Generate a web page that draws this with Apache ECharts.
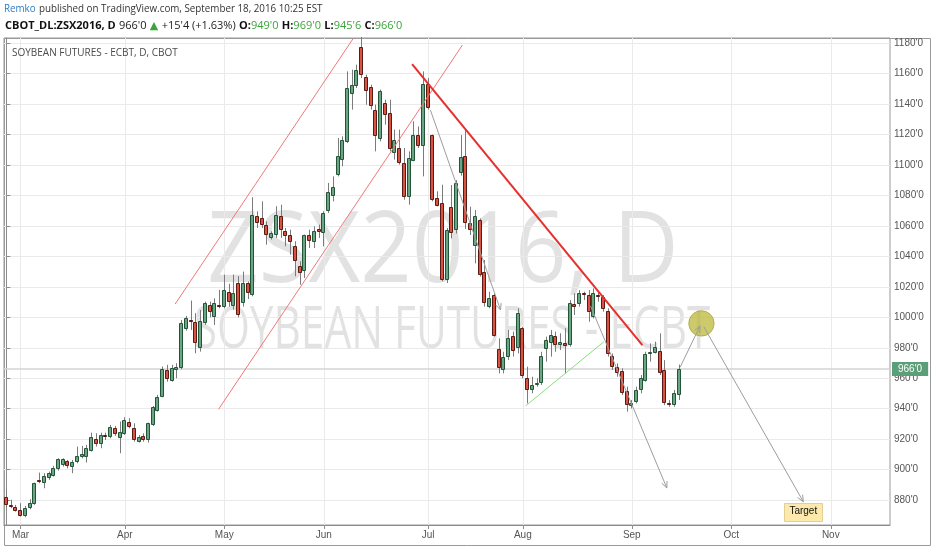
<!DOCTYPE html>
<html><head><meta charset="utf-8">
<script src="https://cdn.jsdelivr.net/npm/echarts@6/dist/echarts.min.js"></script>
<style>html,body{margin:0;padding:0;background:#fff}#c{width:932px;height:550px}</style>
</head><body><div id="c"></div>
<script>
// ---------- data ----------
const firstDay = '2016-02-25';
const dayCount = 187;
const holidays = ['2016-03-25','2016-05-30','2016-07-04','2016-09-05'];
const monthNames = ['Jan','Feb','Mar','Apr','May','Jun','Jul','Aug','Sep','Oct','Nov','Dec'];
const priceTicks = [880,900,920,940,960,980,1000,1020,1040,1060,1080,1100,1120,1140,1160,1180];
const priceMin = 863.7, priceMax = 1183.3;

const opens = [882.4,877.1,875.4,
873.6,869.7,874.7,877.5,892.5,891.1,894.4,896.1,900.3,903.1,
905.5,901.6,905.1,908.2,908.2,912.5,920,916.9,922.6,921.3,
927.2,921.1,923.5,931.6,927.2,918.4,922.2,919.5,929.4,938.8,
948,965.5,958.3,965.5,966.6,992.2,997.9,997.2,979.7,996.5,
1008.1,1000.4,1007.5,1007,1016.8,1007.4,1022.3,1009.6,1022.3,1014.9,
1066.3,1065.2,1060.8,1052.1,1054.3,1066.3,1056.4,1054.3,1046.6,1033.9,
1030.2,1053.8,1049.4,1058.2,1055.3,1069.6,1079.4,1093.6,1103.5,1115.1,
1146.6,1151.6,1177.2,1157.5,1150.9,1136.3,1117.2,1140.6,1134.1,1107.8,
1111.1,1101.3,1078.8,1102.4,1119.9,1112.2,1153.1,1119.9,1078.3,1075,
1024.7,1072.6,1057.3,1094.5,1105.9,1062.1,1046.8,1063.8,1030,1007,
1014.6,979,965.4,974.2,987.7,979.6,992.8,960,952.3,955.6,
956.7,979,982.9,987.7,981.8,982.9,981.8,1008.7,1008.7,1016.2,
1014.6,1000.4,1014.6,1013.5,1004.3,974.6,967.6,965,951.8,941.8,
944.6,952.3,958.4,975.9,976.8,978.1,965.4,943.9,942.4,949];
const highs = [886.7,880.2,876.9,
878,876.2,880.6,891.5,898.1,897.7,898.8,902.5,907.5,907.5,
906.4,906.4,915.2,915.6,916.3,924.3,923.9,924.3,924.3,929.4,
928.7,931.6,934.4,933.8,930.5,922.8,923.9,930.9,941.8,949.1,
967.7,968.8,968.8,969.9,998.3,1000.9,1011,1002.7,1004.8,1010.3,
1010.3,1012.5,1018,1028,1022,1028,1027,1030,1023.5,1078.8,
1069.6,1076.1,1063,1056.4,1072.9,1073.9,1058.6,1057.5,1049.9,1036.8,
1054.3,1057.5,1059.7,1060.8,1069.6,1088.2,1092.5,1117.7,1118.8,1161.4,
1162.5,1165.8,1184,1159.2,1152.7,1139.6,1149.4,1142.8,1142.8,1123.2,
1123.2,1111.1,1108.9,1128.6,1125.3,1161.4,1157.1,1119.9,1082.7,1087,
1058.6,1086.8,1090,1119.6,1122.9,1072.6,1070.4,1064.9,1037.6,1016.8,
1015.7,986.2,977.4,991.7,990.6,1005.9,993.8,967.6,961,960,
977.4,987.3,991.7,990.6,989.5,992.8,1011.3,1015.7,1017.9,1016.8,
1017.9,1019,1016.8,1014.6,1005.9,976.3,969.8,966.5,954.5,945.7,
954.5,962.1,977.4,982.9,984,989.5,971.9,945.7,952.3,969];
const lows = [874.7,874.7,872.5,
869.2,868.8,874,876.9,891.1,887.8,893.3,895.5,899.4,902,
900.9,897.7,904.2,907.5,904.7,911.9,915.2,914.1,919.5,920.6,
922.2,910.8,922.8,927.2,918.4,917.8,918.4,917.8,928.7,938.1,
947.5,957.8,957.8,960,965.9,991.3,991.7,976.4,977.5,995,
1000,995,1005.9,1005.9,1007,1005,1000,1007,1012,1013.8,
1058.6,1058.6,1047.7,1051,1052.1,1052.1,1046.6,1041.1,1026.9,1021.4,
1025.8,1045.5,1045.5,1052.1,1046.6,1068.5,1076.1,1092.5,1099.1,1114.4,
1136.3,1150.5,1157,1139.5,1136.3,1108.9,1115.5,1126.4,1108.9,1103.5,
1100.2,1077.2,1073.9,1102.4,1111.1,1092.5,1136.3,1076.1,1072.8,1023.6,
1022.5,1051.8,1055,1093,1058,1054,1035.4,1026.7,1007,1005.9,
987.3,963.2,963.2,972,974.2,976.3,960,943.5,950.1,954.5,
955.6,970.9,974.2,977.4,978.5,963.2,980.7,1001.5,1007,1011.3,
997.1,999.3,1010.2,1003.7,974.2,965.4,961,949,938.1,940.2,
943.5,950.1,957.8,970.9,976.3,962.1,942.4,941.3,941.3,945.75];
const closes = [876.9,875.8,873.2,
869.7,874.7,878,891.1,892,896.1,897.7,901,906.8,906.8,
902.5,905.3,909.3,910.1,914.1,921.7,916.9,922.8,921.7,928.3,
923.3,924.6,932.7,928.3,919.5,921.7,919.5,930.5,941,947.5,
966.1,959.3,966.6,967.7,996.5,999.4,997.6,983,997.8,1009.2,
1003.7,1009.2,1007.2,1017.9,1010.3,1015.7,1001.5,1022.3,1015.7,1067.4,
1061.9,1060.8,1054.3,1055.3,1067.4,1057.5,1053.2,1049.4,1036.8,1029.1,
1053.8,1050.3,1056.4,1056,1068.5,1082.3,1085.3,1105.7,1116.6,1150.5,
1152.7,1162.5,1158.8,1148.7,1138.5,1118.8,1148.3,1133,1110.7,1116.6,
1101.3,1078.8,1104.6,1119.9,1112.2,1153.1,1137.4,1077.2,1072.8,1024.7,
1057.5,1055.1,1087.9,1105.4,1061.7,1057.3,1066.5,1027.8,1009.2,1012.4,
987.7,966.5,974.2,986.2,978.1,1003,961.5,952.3,955.6,957.1,
974.6,985.1,988.4,981.8,984,981.2,1009.1,1007,1016.2,1014.6,
1003.7,1016.2,1013.5,1005.2,975.7,967.6,963.2,950.5,942.4,943.5,
952.3,960,975.9,977.2,980.3,963.7,943.5,942.4,950.5,966];
const lastPrice = 966;

// chart drawings, in (day position, price)
const channelLines = [[35.62,1008.7,73.27,1183.3],[44.77,939.6,96.26,1178.7]];
const trendLines = [[85.63,1166.2,134.23,981.8]];
const supportLines = [[109.57,941.8,126.12,984]];
const arrowLines = [[89.5,1136,104.3,1004.8],[123.3,1007.4,139.4,888],[142.2,967.2,146.4,994.3],[147.2,993.8,168.2,879]];
const circlePoints = [[146.7,996]];
const targetPoints = [[168.2,872.5]];

// ---------- build ----------
function buildDays(){
  const out=[]; const d=new Date(firstDay+'T00:00:00Z');
  while(out.length<dayCount){
    const wd=d.getUTCDay(); const s=d.toISOString().slice(0,10);
    if(wd!==0&&wd!==6&&holidays.indexOf(s)<0) out.push(s);
    d.setUTCDate(d.getUTCDate()+1);
  }
  return out;
}
const days = buildDays();
const monthStarts = [];
for(let i=1;i<days.length;i++){ if(days[i].slice(5,7)!==days[i-1].slice(5,7)) monthStarts.push(i); }
const candleData = opens.map((o,i)=>[i,o,closes[i],lows[i],highs[i]]);
const fmtPrice = v => Math.round(v)+"'0";

function renderCandle(params, api){
  const i=api.value(0), o=api.value(1), c=api.value(2), l=api.value(3), h=api.value(4);
  const pO=api.coord([i,o]), pC=api.coord([i,c]), pL=api.coord([i,l]), pH=api.coord([i,h]);
  const px=Math.floor(pO[0]);
  const up=c>=o;
  const fill=up?'#6ba583':'#d75442', edge=up?'#225437':'#5b1a13';
  const yT=Math.round(Math.min(pO[1],pC[1])), yB=Math.round(Math.max(pO[1],pC[1]));
  const ch=[{type:'line',shape:{x1:px+0.5,y1:pH[1],x2:px+0.5,y2:pL[1]},style:{stroke:'#7b7b7d',lineWidth:1}}];
  if(yB-yT<2){
    ch.push({type:'rect',shape:{x:px-1.5,y:yT-0.5,width:3,height:1},style:{fill:edge,stroke:edge,lineWidth:1}});
  } else {
    ch.push({type:'rect',shape:{x:px-1.5,y:yT+0.5,width:3,height:yB-yT-1},style:{fill:fill,stroke:edge,lineWidth:1}});
  }
  return {type:'group',children:ch};
}
function segRender(color,width){
  return function(params,api){
    const a=api.coord([api.value(0),api.value(1)]), b=api.coord([api.value(2),api.value(3)]);
    return {type:'line',shape:{x1:a[0],y1:a[1],x2:b[0],y2:b[1]},style:{stroke:color,lineWidth:width}};
  };
}
function arrowRender(params,api){
  const a=api.coord([api.value(0),api.value(1)]), b=api.coord([api.value(2),api.value(3)]);
  const ang=Math.atan2(b[1]-a[1],b[0]-a[0]), L=7, s=0.42;
  return {type:'group',children:[
    {type:'line',shape:{x1:a[0],y1:a[1],x2:b[0],y2:b[1]},style:{stroke:'#9d9d9d',lineWidth:1}},
    {type:'polyline',shape:{points:[[b[0]-L*Math.cos(ang-s),b[1]-L*Math.sin(ang-s)],[b[0],b[1]],[b[0]-L*Math.cos(ang+s),b[1]-L*Math.sin(ang+s)]]},style:{stroke:'#9d9d9d',lineWidth:1,fill:null}}
  ]};
}
function circleRender(params,api){
  const p=api.coord([api.value(0),api.value(1)]);
  return {type:'circle',shape:{cx:p[0],cy:p[1],r:12.7},style:{fill:'rgba(185,182,50,0.72)',stroke:'rgba(170,168,60,0.8)',lineWidth:1}};
}
function targetRender(params,api){
  const p=api.coord([api.value(0),api.value(1)]);
  return {type:'group',children:[
    {type:'rect',shape:{x:Math.round(p[0]-19)+0.5,y:Math.round(p[1]-9)+0.5,width:38,height:18},style:{fill:'#fce9ab',stroke:'#e2cf96',lineWidth:1}},
    {type:'text',style:{x:p[0],y:p[1],text:'Target',textAlign:'center',textVerticalAlign:'middle',fill:'#111',fontSize:10,fontFamily:'Liberation Sans, Arial, sans-serif'}}
  ]};
}

const chart = echarts.init(document.getElementById('c'));
chart.setOption({
  backgroundColor:'#ffffff',
  animation:false,
  grid:{left:4,right:42,top:38,bottom:25,show:true,borderColor:'#9a9a9a',borderWidth:1,backgroundColor:'transparent'},
  xAxis:{type:'value',min:-0.5,max:days.length-0.5,
    axisLine:{show:true,lineStyle:{color:'#8c8c8c'}},
    axisTick:{show:true,length:4,customValues:monthStarts,lineStyle:{color:'#8c8c8c'}},
    axisLabel:{customValues:monthStarts,formatter:v=>monthNames[+days[Math.round(v)].slice(5,7)-1],color:'#555',fontSize:10,margin:5,fontFamily:'Liberation Sans, Arial, sans-serif'},
    splitLine:{show:true,lineStyle:{color:'#eaeaea',width:1}}
  },
  yAxis:{type:'value',position:'right',min:priceMin,max:priceMax,scale:true,
    axisLine:{show:true,lineStyle:{color:'#8c8c8c'}},
    axisTick:{show:true,length:4,customValues:priceTicks,lineStyle:{color:'#8c8c8c'}},
    axisLabel:{customValues:priceTicks,formatter:fmtPrice,color:'#555',fontSize:10,margin:4,fontFamily:'Liberation Sans, Arial, sans-serif'},
    splitLine:{show:true,lineStyle:{color:'#eaeaea',width:1}}
  },
  graphic:[
    {type:'text',z:100,x:4,y:9,scaleX:0.98,style:{text:'{a|Remko} {b|published on TradingView.com, September 18, 2016 10:25 EST}',textVerticalAlign:'middle',
      rich:{a:{fill:'#2a7bc6',fontSize:10,fontFamily:'Open Sans'},b:{fill:'#333',fontSize:10,fontFamily:'Open Sans'}}}},
    {type:'text',z:100,x:5,y:26,scaleX:1.0,style:{text:"{k|CBOT_DL:ZSX2016, D} {n|966'0} {g|▲} {n|+15'4 (+1.63%)} {k|O:}{v|949'0} {k|H:}{v|969'0} {k|L:}{v|945'6} {k|C:}{v|966'0}",textVerticalAlign:'middle',
      rich:{k:{fill:'#111',fontSize:11,fontWeight:'bold',fontFamily:'Open Sans'},n:{fill:'#222',fontSize:11,fontFamily:'Open Sans'},g:{fill:'#3aa53a',fontSize:11,fontFamily:'DejaVu Sans'},v:{fill:'#3aa53a',fontSize:11,fontFamily:'Open Sans'}}}},
    {type:'text',z:100,x:12,y:53,style:{text:'SOYBEAN FUTURES - ECBT, D, CBOT',textVerticalAlign:'middle',fill:'#4a4a4a',fontSize:10,fontFamily:'Open Sans'}},
    {type:'text',z:-10,x:443,y:254,scaleX:0.92,style:{text:'ZSX2016, D',textAlign:'center',textVerticalAlign:'middle',fill:'rgba(0,0,0,0.115)',fontSize:98,fontFamily:'Open Sans'}},
    {type:'text',z:-10,x:452,y:331,scaleX:0.73,style:{text:'SOYBEAN FUTURES - ECBT',textAlign:'center',textVerticalAlign:'middle',fill:'rgba(0,0,0,0.115)',fontSize:58,fontFamily:'Open Sans'}},
    {type:'rect',z:-11,shape:{x:4.5,y:38.5,width:926,height:507},style:{fill:null,stroke:'#9a9a9a',lineWidth:1}}
  ],
  series:[
    {type:'custom',name:'ZSX2016',renderItem:renderCandle,data:candleData,encode:{x:0,y:[1,2,3,4]},z:3,clip:false,
      markLine:{silent:true,symbol:'none',z:2,data:[{yAxis:lastPrice}],lineStyle:{color:'#d3d3d3',width:1.5,type:'solid'},
        label:{show:true,position:'end',formatter:"966'0",backgroundColor:'#5b9f78',color:'#fff',fontSize:10,padding:[2,6],distance:2,fontFamily:'Liberation Sans, Arial, sans-serif'}}},
    {type:'custom',renderItem:segRender('#f07878',1),data:channelLines,encode:{x:[0,2],y:[1,3]},z:5,clip:true},
    {type:'custom',renderItem:segRender('#e5302d',2),data:trendLines,encode:{x:[0,2],y:[1,3]},z:5},
    {type:'custom',renderItem:segRender('#86e07e',1),data:supportLines,encode:{x:[0,2],y:[1,3]},z:5},
    {type:'custom',renderItem:arrowRender,data:arrowLines,encode:{x:[0,2],y:[1,3]},z:5},
    {type:'custom',renderItem:circleRender,data:circlePoints,encode:{x:0,y:1},z:4},
    {type:'custom',renderItem:targetRender,data:targetPoints,encode:{x:0,y:1},z:5}
  ]
});
</script></body></html>
